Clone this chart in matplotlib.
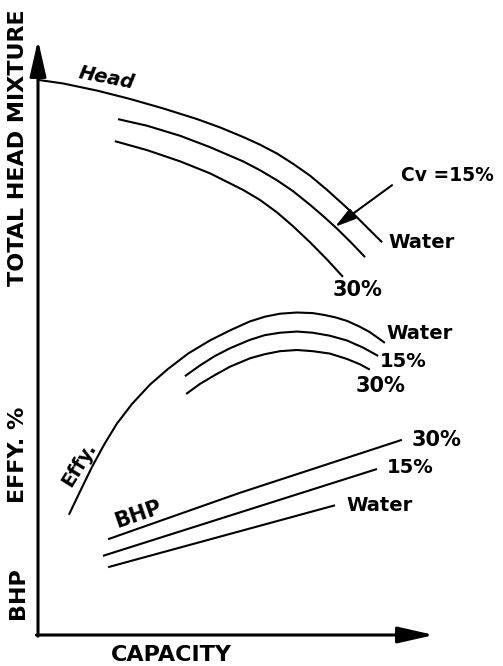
import matplotlib.pyplot as plt

# Data (capacity %, value % of axis height)
head_water_x = [0, 6.3, 14.9, 23.2, 31.6, 40.2, 46.0, 51.8, 56.1, 60.4, 64.4, 68.7, 73.0, 77.0, 80.1, 83.1, 86.9]
head_water_y = [93.3, 92.7, 91.5, 90.1, 88.5, 86.7, 85.3, 83.7, 82.4, 80.9, 79.2, 77.2, 74.8, 72.4, 70.5, 68.5, 66.0]
head_15_x = [20.2, 27.5, 35.9, 43.4, 51.8, 56.1, 60.4, 64.4, 68.7, 72.2, 75.5, 79.0, 82.6]
head_15_y = [86.7, 85.6, 83.9, 82.0, 79.6, 78.1, 76.4, 74.6, 72.3, 70.3, 68.3, 66.0, 63.5]
head_30_x = [19.4, 27.5, 35.9, 43.4, 51.8, 56.1, 60.4, 64.4, 68.7, 73.0, 77.0]
head_30_y = [83.0, 81.5, 79.6, 77.6, 74.8, 73.1, 71.0, 68.7, 66.0, 63.1, 60.2]

eff_water_x = [7.8, 10.6, 13.6, 16.7, 19.9, 23.7, 28.3, 32.8, 37.9, 43.4, 48.5, 53.5, 57.3, 61.1,
               65.4, 69.4, 72.2, 75.0, 78.0, 81.3, 83.8, 87.6]
eff_water_y = [20.2, 24.1, 28.2, 32.0, 35.5, 38.8, 42.1, 44.7, 47.3, 49.5, 51.2, 52.7, 53.5, 54.0,
               54.2, 54.1, 53.8, 53.4, 52.8, 51.8, 50.9, 49.1]
eff_15_x = [37.1, 40.9, 44.7, 48.5, 53.5, 57.3, 61.1, 65.4, 69.4, 73.7, 78.0, 82.1, 85.9]
eff_15_y = [43.5, 45.3, 46.9, 48.2, 49.6, 50.4, 50.8, 51.0, 50.8, 50.3, 49.5, 48.3, 46.9]
eff_30_x = [37.4, 40.9, 44.7, 48.5, 53.5, 57.3, 61.1, 65.4, 69.4, 73.7, 78.0, 81.3, 83.8]
eff_30_y = [40.5, 42.2, 43.7, 45.1, 46.5, 47.2, 47.7, 47.9, 47.7, 47.3, 46.4, 45.5, 44.6]

bhp_30_x = [17.7, 51.0, 91.9]
bhp_30_y = [16.1, 23.9, 32.8]
bhp_15_x = [16.4, 85.6]
bhp_15_y = [13.3, 27.9]
bhp_water_x = [17.7, 75.0]
bhp_water_y = [11.4, 21.8]

lw = 1.5
fig = plt.figure(figsize=(5.03, 6.66), dpi=100)
ax = fig.add_axes([38 / 503, 31 / 666, 396 / 503, 595 / 666])
ax.set_xlim(0, 100)
ax.set_ylim(0, 100)
ax.axis('off')

# axes drawn as arrows
axis_arrow = dict(arrowstyle='-|>,head_length=1.1,head_width=0.25', lw=2.2,
                  color='black', shrinkA=0, shrinkB=0, mutation_scale=20)
ax.annotate('', xy=(0, 1), xytext=(0, -0.002), xycoords='axes fraction', arrowprops=axis_arrow)
ax.annotate('', xy=(1, 0), xytext=(-0.004, 0), xycoords='axes fraction', arrowprops=axis_arrow)

# curves
for xs, ys in [(head_water_x, head_water_y), (head_15_x, head_15_y), (head_30_x, head_30_y),
               (eff_water_x, eff_water_y), (eff_15_x, eff_15_y), (eff_30_x, eff_30_y),
               (bhp_30_x, bhp_30_y), (bhp_15_x, bhp_15_y), (bhp_water_x, bhp_water_y)]:
    ax.plot(xs, ys, color='black', lw=lw, solid_capstyle='butt', solid_joinstyle='round')

# curve labels
ax.text(17.4, 93.6, 'Head', fontsize=14, fontweight='bold', style='italic', rotation=-11,
        ha='center', va='center')
ax.text(88.6, 65.9, 'Water', fontsize=14, fontweight='bold', ha='left', va='center')
ax.text(80.6, 58.0, '30%', fontsize=15, fontweight='bold', ha='center', va='center')
ax.text(103.5, 77.3, 'Cv =15%', fontsize=13.5, fontweight='bold', ha='center', va='center')
ax.annotate('', xy=(75.0, 68.6), xytext=(89.4, 75.6),
            arrowprops=dict(arrowstyle='-|>,head_length=1.3,head_width=0.36', lw=lw,
                            color='black', shrinkA=0, shrinkB=0, mutation_scale=10))

ax.text(88.1, 50.6, 'Water', fontsize=14, fontweight='bold', ha='left', va='center')
ax.text(86.4, 45.9, '15%', fontsize=14, fontweight='bold', ha='left', va='center')
ax.text(80.1, 41.8, '30%', fontsize=15, fontweight='bold', ha='left', va='center')
ax.text(10.3, 28.6, 'Effy.', fontsize=14, fontweight='bold', rotation=58, ha='center', va='center')

ax.text(25.3, 20.2, 'BHP', fontsize=15, fontweight='bold', rotation=19, ha='center', va='center')
ax.text(94.4, 32.8, '30%', fontsize=15, fontweight='bold', ha='left', va='center')
ax.text(88.1, 28.2, '15%', fontsize=14, fontweight='bold', ha='left', va='center')
ax.text(78.0, 21.8, 'Water', fontsize=14, fontweight='bold', ha='left', va='center')

# axis titles
for label, ypix in [('TOTAL HEAD MIXTURE', 148), ('EFFY. %', 455), ('BHP', 593)]:
    fig.text(18 / 503, 1 - ypix / 666, label, fontsize=16, fontweight='bold', rotation=90,
             ha='center', va='center')
fig.text(171 / 503, 1 - 655 / 666, 'CAPACITY', fontsize=16, fontweight='bold',
         ha='center', va='center')

fig.savefig('out.png', dpi=100)
